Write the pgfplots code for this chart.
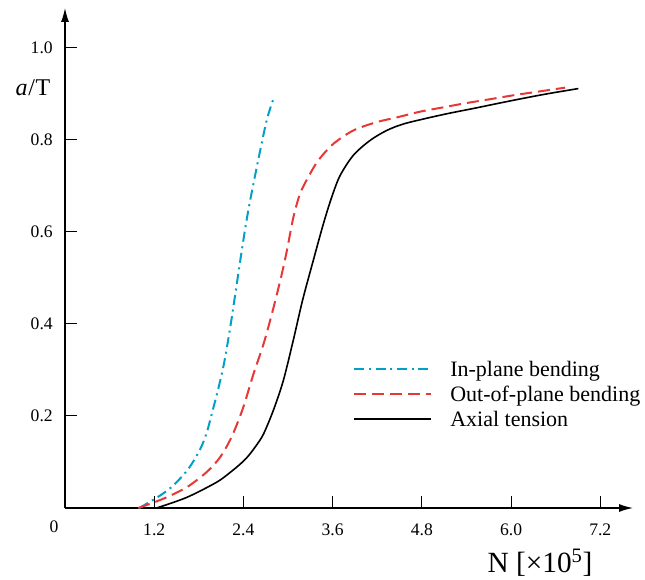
\documentclass[border=0pt]{standalone}
\usepackage{fontspec}
\setmainfont{Liberation Serif}
\usepackage{pgfplots}
\pgfplotsset{compat=1.18}
\usetikzlibrary{arrows.meta}
\definecolor{incyan}{RGB}{0,160,200}
\definecolor{outred}{RGB}{232,55,55}
\begin{document}
\begin{tikzpicture}
\begin{axis}[
  at={(0pt,0pt)}, anchor=south west,
  scale only axis, width=426pt, height=375pt,
  xmin=0, xmax=7.64, ymin=0, ymax=1.086,
  axis lines=left,
  axis line style={line width=0.9pt, -{Latex[length=10.5pt,width=6pt]}},
  xtick={1.2,2.4,3.6,4.8,6.0,7.2},
  ytick={0.2,0.4,0.6,0.8,1.0},
  tick align=inside, major tick length=9pt,
  tick style={line width=0.7pt, black},
  /pgf/number format/assume math mode=true,
  xticklabel style={/pgf/number format/.cd, fixed, fixed zerofill, precision=1, /tikz/.cd, inner sep=0pt, anchor=north, yshift=-12pt, font=\fontsize{13.2}{15}\selectfont},
  yticklabel style={/pgf/number format/.cd, fixed, fixed zerofill, precision=1, /tikz/.cd, inner sep=0pt, anchor=east, xshift=-9pt, font=\fontsize{13.2}{15}\selectfont},
  legend style={draw=none, fill=none, inner sep=0pt, at={(axis cs:3.874,0.3186)}, anchor=north west,
    font=\fontsize{16.5}{19}\selectfont, row sep=7.2pt, column sep=13.5pt,
    nodes={inner sep=0pt, text height=11.5pt, text depth=0pt}},
  legend cell align=left,
  legend image code/.code={\draw[#1] (0pt,0pt) -- (57.75pt,0pt);},
]
\addplot[incyan, line width=1.5pt, dash pattern=on 7.5pt off 3.5pt on 1.5pt off 3.5pt, smooth] coordinates {
(1.0,0) (1.278,0.027) (1.457,0.049) (1.659,0.085) (1.816,0.127) (1.905,0.163) (1.98,0.208) (2.06,0.258) (2.14,0.315) (2.22,0.39) (2.30,0.475) (2.385,0.567) (2.466,0.647) (2.579,0.740) (2.713,0.842) (2.812,0.892)
};
\addlegendentry{In-plane bending}
\addplot[outred, line width=1.5pt, dash pattern=on 9pt off 4.5pt, smooth] coordinates {
(0.986,0) (1.32,0.02) (1.637,0.045) (1.905,0.078) (2.085,0.11) (2.24,0.154) (2.39,0.215) (2.533,0.29) (2.668,0.355) (2.78,0.42) (2.90,0.497) (2.982,0.557) (3.07,0.630) (3.16,0.682) (3.273,0.719) (3.407,0.755) (3.61,0.791) (3.878,0.82) (4.19,0.838) (4.48,0.849) (4.78,0.861) (5.08,0.870) (5.381,0.879) (5.72,0.888) (6.054,0.897) (6.39,0.905) (6.727,0.913)
};
\addlegendentry{Out-of-plane bending}
\addplot[black, line width=1.2pt, smooth] coordinates {
(1.233,0) (1.637,0.023) (2.04,0.056) (2.219,0.077) (2.354,0.095) (2.46,0.112) (2.56,0.133) (2.668,0.16) (2.802,0.212) (2.937,0.277) (3.07,0.364) (3.195,0.451) (3.34,0.538) (3.475,0.617) (3.587,0.675) (3.70,0.722) (3.878,0.766) (4.10,0.798) (4.327,0.82) (4.55,0.834) (4.85,0.846) (5.157,0.857) (5.5,0.868) (5.83,0.879) (6.17,0.89) (6.50,0.90) (6.905,0.911)
};
\addlegendentry{Axial tension}
\end{axis}
\node[font=\fontsize{13.2}{15}\selectfont] at (-8.25pt,-14.25pt) {0};
\node[font=\fontsize{18}{21}\selectfont] at (-24pt,315pt) {\textit{a}\kern0.5pt/\kern0.5pt T};
\node[font=\fontsize{22}{26}\selectfont] at (356.25pt,-41.25pt) {N [×10\textsuperscript{5}]};
\pgfresetboundingbox
\path (-48.75pt,-53.25pt) rectangle (435pt,381pt);
\end{tikzpicture}
\end{document}
